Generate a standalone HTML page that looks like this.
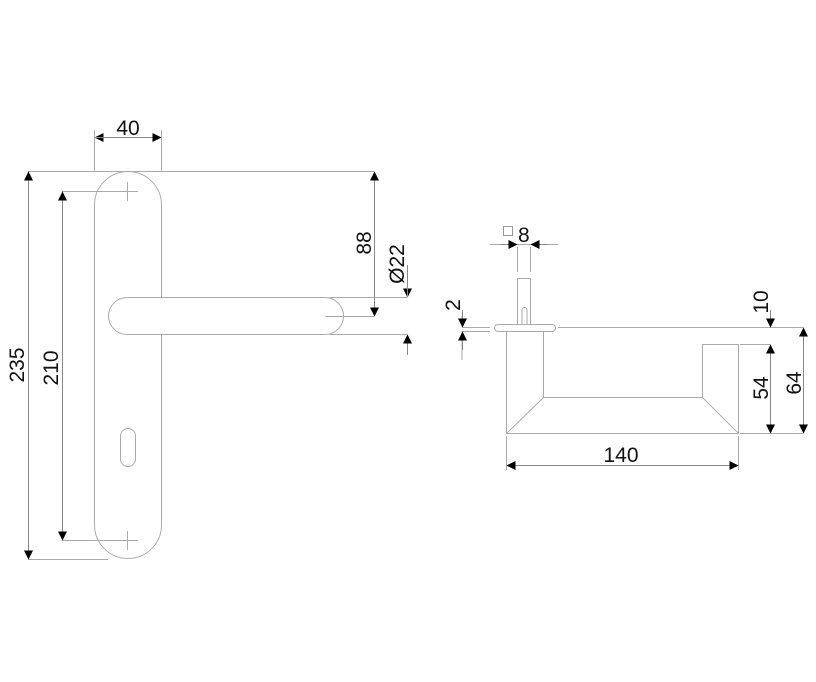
<!DOCTYPE html>
<html><head><meta charset="utf-8"><style>
html,body{margin:0;padding:0;background:#fff;}
svg{display:block;}
text{font-family:"Liberation Sans",Arial,sans-serif;font-size:21px;fill:#111;}
</style></head><body>
<svg width="816" height="682" viewBox="0 0 816 682" xmlns="http://www.w3.org/2000/svg">
<defs>
<marker id="a" viewBox="0 0 10 10" refX="10" refY="5" markerWidth="15" markerHeight="9" markerUnits="userSpaceOnUse" orient="auto-start-reverse"><path d="M0,0 L10,5 L0,10 z" fill="#000"/></marker>
</defs>
<g fill="none" stroke="#aaa" stroke-width="1">
<path d="M94.5,205 A33.5,33.5 0 0 1 161.5,205 L161.5,525 A33.5,33.5 0 0 1 94.5,525 Z" fill="#fff"/>
<path d="M127,297.5 L325,297.5 A18.5,18.5 0 0 1 325,334.5 L127,334.5 A18.5,18.5 0 0 1 127,297.5 Z" fill="#fff"/>
<rect x="120.5" y="428.5" width="15" height="38" rx="7.5" fill="#fff"/>
<path d="M118,191.5 H138 M127.5,182 V201 M118,540.5 H138 M127.5,531 V550"/>
<path d="M94.5,130 V171 M161.5,130 V171 M28,171.5 H374 M62,191.5 H118 M62,540.5 H118 M28,559.5 H108 M325,316.5 H374 M330,297.5 H407 M330,334.5 H407"/>
<rect x="494.5" y="324.5" width="61" height="7" rx="3.5" fill="#fff"/>
<path d="M558,327.5 H803"/>
<path d="M517.5,278.5 V325 M530.5,278.5 V325 M517.5,278.5 H530.5 M517.5,247 V272 M530.5,247 V272"/>
<path d="M522,325 V310 A2.5,2.5 0 0 1 527,310 V325"/>
<path d="M506.5,332 V433.5 H738.5 V344.5 H702.5 V397.5 H543.5 V332"/>
<path d="M543.5,397.5 L506.5,433.5 M702.5,397.5 L738.5,433.5"/>
<path d="M506.5,436 V470 M738.5,436 V470 M740,344.5 H770 M740,433.5 H803"/>
<path d="M462,327.5 H490 M462,331.5 H490 M462,331 V360 M462,316 V327"/>
<path d="M490,244.5 H558"/>
</g>
<g stroke="#888" stroke-width="1" fill="none">
<line x1="110" y1="137.5" x2="94.5" y2="137.5" marker-end="url(#a)"/>
<line x1="94.5" y1="137.5" x2="161.5" y2="137.5"/>
<line x1="146" y1="137.5" x2="161.5" y2="137.5" marker-end="url(#a)"/>
<line x1="28.5" y1="171.5" x2="28.5" y2="559.5" marker-start="url(#a)" marker-end="url(#a)"/>
<line x1="62.5" y1="191.5" x2="62.5" y2="540.5" marker-start="url(#a)" marker-end="url(#a)"/>
<line x1="374.5" y1="171.5" x2="374.5" y2="316.5" marker-start="url(#a)" marker-end="url(#a)"/>
<line x1="407.5" y1="280" x2="407.5" y2="297.5" marker-end="url(#a)"/>
<line x1="407.5" y1="355" x2="407.5" y2="334.5" marker-end="url(#a)"/>
<line x1="407.5" y1="297.5" x2="407.5" y2="265"/>
<line x1="506.5" y1="465.5" x2="738.5" y2="465.5" marker-start="url(#a)" marker-end="url(#a)"/>
<line x1="770.5" y1="344.5" x2="770.5" y2="433.5" marker-start="url(#a)" marker-end="url(#a)"/>
<line x1="803.5" y1="327.5" x2="803.5" y2="433.5" marker-start="url(#a)" marker-end="url(#a)"/>
<line x1="770.5" y1="310" x2="770.5" y2="327.5" marker-end="url(#a)"/>
<line x1="462.5" y1="310" x2="462.5" y2="327.5" marker-end="url(#a)"/>
<line x1="462.5" y1="350" x2="462.5" y2="331.5" marker-end="url(#a)"/>
<line x1="500" y1="244.5" x2="517.5" y2="244.5" marker-end="url(#a)"/>
<line x1="548" y1="244.5" x2="530.5" y2="244.5" marker-end="url(#a)"/>
</g>
<text x="128" y="135" text-anchor="middle">40</text>
<text x="621" y="462" text-anchor="middle">140</text>
<text x="518" y="242">8</text>
<rect x="503.5" y="226.5" width="9" height="9" fill="none" stroke="#999"/>
<text transform="translate(24,365) rotate(-90)" text-anchor="middle">235</text>
<text transform="translate(58,368) rotate(-90)" text-anchor="middle">210</text>
<text transform="translate(371,243) rotate(-90)" text-anchor="middle">88</text>
<text transform="translate(404,264) rotate(-90)" text-anchor="middle">Ø22</text>
<text transform="translate(768,388) rotate(-90)" text-anchor="middle">54</text>
<text transform="translate(801,383) rotate(-90)" text-anchor="middle">64</text>
<text transform="translate(768,302) rotate(-90)" text-anchor="middle">10</text>
<text transform="translate(460,305) rotate(-90)" text-anchor="middle">2</text>
</svg>
</body></html>
